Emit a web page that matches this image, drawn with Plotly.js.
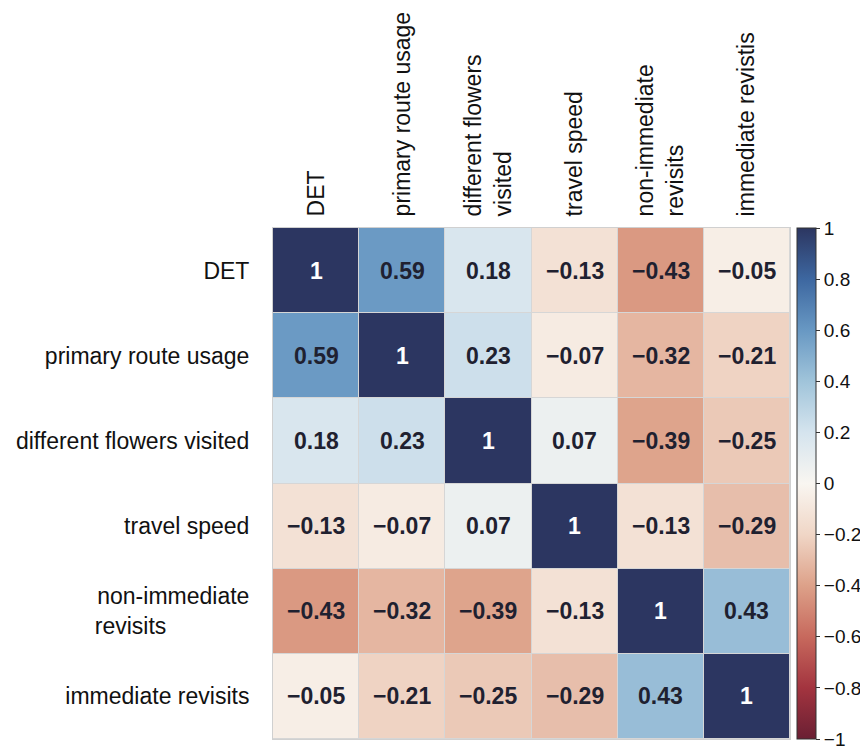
<!DOCTYPE html>
<html><head><meta charset="utf-8">
<script src="https://cdn.plot.ly/plotly-3.0.1.min.js"></script>
<style>body{margin:0;background:#fff}#c{width:860px;height:752px}</style>
</head><body><div id="c"></div>
<script>
const colLabels = ["DET", "primary route usage", "different flowers<br>visited", "travel speed", "non-immediate<br>revisits", "immediate revistis"];
const rowLabels = ["DET", "primary route usage", "different flowers visited", "travel speed", "non-immediate<br>revisits" + "\u00A0".repeat(13), "immediate revisits"];
const rowDET = [1, 0.59, 0.18, -0.13, -0.43, -0.05];
const rowPRU = [0.59, 1, 0.23, -0.07, -0.32, -0.21];
const rowDFV = [0.18, 0.23, 1, 0.07, -0.39, -0.25];
const rowTS  = [-0.13, -0.07, 0.07, 1, -0.13, -0.29];
const rowNIR = [-0.43, -0.32, -0.39, -0.13, 1, 0.43];
const rowIR  = [-0.05, -0.21, -0.25, -0.29, 0.43, 1];
const cbTicks = [-1, -0.8, -0.6, -0.4, -0.2, 0, 0.2, 0.4, 0.6, 0.8, 1];

const z = [rowDET, rowPRU, rowDFV, rowTS, rowNIR, rowIR];
const xKeys = colLabels.map((c, i) => "c" + i);
const yKeys = rowLabels.map((r, i) => "r" + i);
const fmt = v => (v < 0 ? "\u2212" : "") + String(Math.abs(v));

const colorscale = [
  [0.0, "#6a1f33"], [0.1, "#a3343f"], [0.2, "#c7695d"], [0.3, "#dda189"],
  [0.4, "#f0d6c6"], [0.5, "#f9f6f1"], [0.6, "#d5e4ee"], [0.7, "#a0c4da"],
  [0.8, "#6898c3"], [0.9, "#3d67a0"], [1.0, "#2c3661"]
];

const annotations = [];
z.forEach((row, i) => row.forEach((v, j) => {
  annotations.push({
    x: xKeys[j], y: yKeys[i], xref: "x", yref: "y", text: fmt(v), showarrow: false,
    font: {family: "Liberation Sans, Arial, sans-serif", size: 23, weight: "bold", color: v === 1 ? "#ffffff" : "#1f2130"}
  });
}));

const trace = {
  type: "heatmap", x: xKeys, y: yKeys, z: z, zmin: -1, zmax: 1,
  colorscale: colorscale, xgap: 1, ygap: 1, hoverinfo: "skip",
  colorbar: {
    x: 1.0135, xanchor: "left", xpad: 0, ypad: 0, y: 0.5, yanchor: "middle", len: 1, lenmode: "fraction",
    thickness: 19, outlinewidth: 1, outlinecolor: "#333",
    tickvals: cbTicks, ticktext: cbTicks.map(fmt), ticks: "outside", ticklen: 4, tickcolor: "#333",
    ticklabeloverflow: "allow",
    tickfont: {family: "Liberation Sans, Arial, sans-serif", size: 19, color: "#111"}
  }
};

const layout = {
  width: 860, height: 752,
  margin: {l: 273, r: 70, t: 228, b: 13, autoexpand: false},
  paper_bgcolor: "#ffffff", plot_bgcolor: "#d6d6d6",
  font: {family: "Liberation Sans, Arial, sans-serif", color: "#111"},
  xaxis: {
    side: "top", tickvals: xKeys, ticktext: colLabels, tickangle: -90,
    tickfont: {size: 23, color: "#111"}, ticks: "", ticklabelstandoff: 6,
    showgrid: false, zeroline: false, showline: true, mirror: true, linecolor: "#d0d0d0", linewidth: 1, fixedrange: true
  },
  yaxis: {
    tickvals: yKeys, ticktext: rowLabels, autorange: "reversed",
    tickfont: {size: 23, color: "#111"}, ticks: "", ticklabelstandoff: 18,
    showgrid: false, zeroline: false, showline: true, mirror: true, linecolor: "#d0d0d0", linewidth: 1, fixedrange: true
  },
  annotations: annotations
};

Plotly.newPlot("c", [trace], layout, {displayModeBar: false, staticPlot: true});
</script></body></html>
